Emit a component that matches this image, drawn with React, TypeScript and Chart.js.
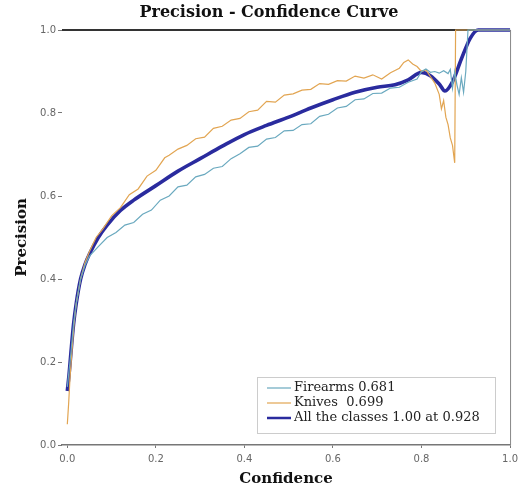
import React, { useEffect, useRef } from "react";
import { Chart, registerables } from "chart.js";

Chart.register(...registerables);

const xTicks = [0, 0.2, 0.4, 0.6, 0.8, 1.0];

const firearmsLabel = "Firearms 0.681";
const firearmsConf = [0, 0.004, 0.008, 0.014, 0.02, 0.03, 0.04, 0.05, 0.07, 0.09, 0.11, 0.13, 0.15, 0.17, 0.19, 0.21, 0.23, 0.25, 0.27, 0.29, 0.31, 0.33, 0.35, 0.37, 0.39, 0.41, 0.43, 0.45, 0.47, 0.49, 0.51, 0.53, 0.55, 0.57, 0.59, 0.61, 0.63, 0.65, 0.67, 0.69, 0.71, 0.73, 0.75, 0.77, 0.79, 0.8, 0.81, 0.82, 0.83, 0.84, 0.85, 0.86, 0.865, 0.87, 0.875, 0.88, 0.885, 0.89, 0.895, 0.9, 0.905, 1.0];
const firearmsPrec = [0.14, 0.18, 0.22, 0.29, 0.34, 0.4, 0.433, 0.455, 0.478, 0.5, 0.512, 0.53, 0.536, 0.556, 0.566, 0.59, 0.6, 0.622, 0.626, 0.646, 0.652, 0.667, 0.671, 0.69, 0.702, 0.717, 0.72, 0.737, 0.741, 0.757, 0.758, 0.772, 0.774, 0.792, 0.797, 0.812, 0.816, 0.832, 0.834, 0.847, 0.848, 0.86, 0.862, 0.874, 0.882, 0.9, 0.906, 0.898, 0.9, 0.896, 0.902, 0.895, 0.905, 0.86, 0.9, 0.868, 0.845, 0.885, 0.85, 0.9, 1.0, 1.0];

const knivesLabel = "Knives  0.699";
const knivesConf = [0, 0.003, 0.006, 0.01, 0.015, 0.02, 0.03, 0.04, 0.05, 0.065, 0.08, 0.1, 0.12, 0.14, 0.16, 0.18, 0.2, 0.22, 0.23, 0.25, 0.27, 0.29, 0.31, 0.33, 0.35, 0.37, 0.39, 0.41, 0.43, 0.45, 0.47, 0.49, 0.51, 0.53, 0.55, 0.57, 0.59, 0.61, 0.63, 0.65, 0.67, 0.69, 0.71, 0.73, 0.75, 0.76, 0.77, 0.78, 0.79, 0.8, 0.81, 0.82, 0.83, 0.84, 0.845, 0.85, 0.855, 0.86, 0.865, 0.87, 0.875, 0.877, 1.0];
const knivesPrec = [0.05, 0.1, 0.16, 0.22, 0.29, 0.34, 0.4, 0.44, 0.466, 0.5, 0.52, 0.552, 0.572, 0.603, 0.617, 0.648, 0.662, 0.692, 0.698, 0.713, 0.722, 0.738, 0.742, 0.763, 0.768, 0.783, 0.787, 0.803, 0.807, 0.828, 0.826, 0.843, 0.846, 0.855, 0.857, 0.871, 0.869, 0.878, 0.877, 0.889, 0.884, 0.892, 0.882, 0.897, 0.908, 0.922, 0.928, 0.918, 0.912, 0.9, 0.904, 0.888, 0.872, 0.845, 0.81, 0.83, 0.79, 0.772, 0.74, 0.722, 0.68, 1.0, 1.0];

const allLabel = "All the classes 1.00 at 0.928";
const allConf = [0, 0.004, 0.008, 0.014, 0.02, 0.03, 0.04, 0.05, 0.07, 0.09, 0.12, 0.15, 0.2, 0.25, 0.3, 0.35, 0.4, 0.45, 0.5, 0.55, 0.6, 0.65, 0.7, 0.74, 0.77, 0.8, 0.82, 0.84, 0.853, 0.87, 0.89, 0.91, 0.928, 1.0];
const allPrec = [0.13, 0.17, 0.22, 0.29, 0.34, 0.4, 0.435, 0.46, 0.5, 0.53, 0.565, 0.59, 0.625, 0.66, 0.69, 0.72, 0.748, 0.77, 0.79, 0.812, 0.832, 0.85, 0.862, 0.868, 0.88, 0.898, 0.89, 0.87, 0.853, 0.875, 0.93, 0.98, 1.0, 1.0];

const colFirearms = "#6aa9bf";
const colKnives = "#e2a552";
const colAll = "#2a2b9e";

const zip = (xs: number[], ys: number[]) => xs.map((x, i) => ({ x, y: ys[i] }));

const framePlugin = {
  id: "frame",
  beforeDatasetsDraw(chart: any) {
    const { ctx, chartArea } = chart;
    ctx.save();
    ctx.strokeStyle = "#888";
    ctx.lineWidth = 1;
    ctx.beginPath();
    ctx.moveTo(chartArea.right + 0.5, chartArea.top);
    ctx.lineTo(chartArea.right + 0.5, chartArea.bottom);
    ctx.stroke();
    ctx.strokeStyle = "#333";
    ctx.lineWidth = 2;
    ctx.beginPath();
    ctx.moveTo(chartArea.left, chartArea.top);
    ctx.lineTo(chartArea.right, chartArea.top);
    ctx.stroke();
    ctx.restore();
  },
};

const textPlugin = {
  id: "texts",
  afterDraw(chart: any) {
    const { ctx } = chart;
    ctx.save();
    ctx.fillStyle = "#111";
    ctx.font = "bold 16px 'DejaVu Serif'";
    ctx.textAlign = "center";
    ctx.textBaseline = "middle";
    ctx.fillText("Precision - Confidence Curve", 269, 13);

    // legend
    const bx = 257, by = 377, bw = 238, bh = 56;
    ctx.fillStyle = "#fff";
    ctx.fillRect(bx, by, bw, bh);
    ctx.strokeStyle = "#ccc";
    ctx.lineWidth = 1;
    ctx.strokeRect(bx + 0.5, by + 0.5, bw, bh);
    const rows = [388, 403, 418];
    chart.data.datasets.forEach((ds: any, i: number) => {
      const y = rows[i];
      ctx.strokeStyle = ds.borderColor;
      ctx.lineWidth = i === 2 ? 2.5 : 1.2;
      ctx.beginPath();
      ctx.moveTo(267, y);
      ctx.lineTo(291, y);
      ctx.stroke();
      ctx.fillStyle = "#222";
      ctx.font = "13px 'DejaVu Serif'";
      ctx.textAlign = "left";
      ctx.textBaseline = "middle";
      ctx.fillText(ds.label, 294, y);
    });
    ctx.restore();
  },
};

export default function App() {
  const ref = useRef<HTMLCanvasElement | null>(null);
  useEffect(() => {
    document.body.style.margin = "0";
    const canvas = ref.current;
    if (!canvas) return;
    const tickFont = { family: "'DejaVu Sans'", size: 10 };
    const chart = new Chart(canvas, {
      type: "line",
      data: {
        datasets: [
          { label: firearmsLabel, data: zip(firearmsConf, firearmsPrec), borderColor: colFirearms, borderWidth: 1.2, pointRadius: 0, tension: 0, clip: 4 } as any,
          { label: knivesLabel, data: zip(knivesConf, knivesPrec), borderColor: colKnives, borderWidth: 1.2, pointRadius: 0, tension: 0, clip: 4 } as any,
          { label: allLabel, data: zip(allConf, allPrec), borderColor: colAll, borderWidth: 3.6, pointRadius: 0, tension: 0.3, cubicInterpolationMode: "monotone", clip: 4 } as any,
        ],
      },
      options: {
        responsive: false,
        animation: false,
        layout: { padding: { top: 30, right: 10, left: 0, bottom: 0 } },
        plugins: { legend: { display: false }, title: { display: false }, tooltip: { enabled: false } },
        scales: {
          x: {
            type: "linear",
            min: -0.012,
            max: 1,
            afterBuildTicks: (s: any) => { s.ticks = xTicks.map((v) => ({ value: v })); },
            afterFit: (s: any) => { s.height = 47; },
            ticks: { callback: (v: any) => Number(v).toFixed(1), color: "#666", font: tickFont, padding: 5, maxRotation: 0, autoSkip: false },
            grid: { drawOnChartArea: false, tickLength: 3, color: "#777" },
            border: { display: true, color: "#777", width: 1.5 },
            title: { display: true, text: "Confidence", color: "#111", font: { family: "'DejaVu Serif'", size: 15, weight: "bold" }, padding: { top: 0, bottom: 4 } },
          },
          y: {
            min: 0,
            max: 1,
            afterFit: (s: any) => { s.width = 62; },
            ticks: { stepSize: 0.2, callback: (v: any) => Number(v).toFixed(1), color: "#666", font: tickFont, padding: 2 },
            grid: { drawOnChartArea: false, tickLength: 4, color: "#777" },
            border: { display: false },
            title: { display: true, text: "Precision", color: "#111", font: { family: "'DejaVu Serif'", size: 15, weight: "bold" }, padding: { top: 13, bottom: 0 } },
          },
        },
      } as any,
      plugins: [framePlugin, textPlugin],
    });
    return () => chart.destroy();
  }, []);
  return <canvas ref={ref} width={523} height={492} style={{ display: "block" }} />;
}
